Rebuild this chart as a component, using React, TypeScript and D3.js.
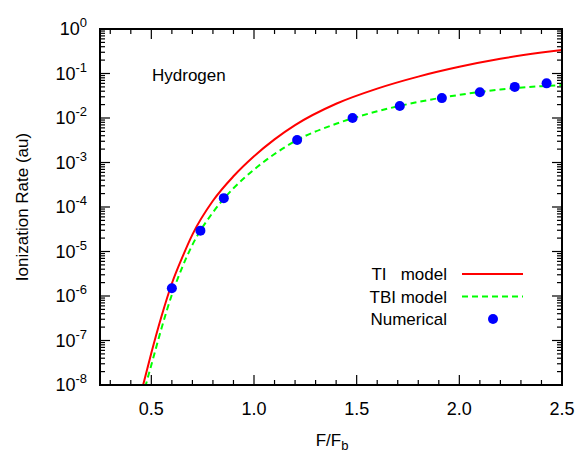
import React, { useEffect, useRef } from 'react';
import * as d3 from 'd3';

// field ratio F/Fb and log10 of the rate
const tiF = [0.46, 0.5, 0.55, 0.6, 0.65, 0.7, 0.8, 0.9, 1.0, 1.1, 1.2, 1.4, 1.6, 1.8, 2.0, 2.2, 2.4, 2.5];
const tiLog = [-8.0, -7.28, -6.45, -5.72, -5.14, -4.62, -3.86, -3.31, -2.86, -2.48, -2.16, -1.68, -1.34, -1.07, -0.85, -0.67, -0.53, -0.47];

const tbiF = [0.47, 0.5, 0.55, 0.6, 0.65, 0.7, 0.8, 0.9, 1.0, 1.1, 1.2, 1.4, 1.6, 1.8, 2.0, 2.2, 2.4, 2.5];
const tbiLog = [-8.05, -7.55, -6.72, -5.97, -5.36, -4.85, -4.12, -3.58, -3.16, -2.81, -2.52, -2.13, -1.85, -1.64, -1.48, -1.36, -1.285, -1.26];

const numF = [0.6, 0.739, 0.853, 1.21, 1.48, 1.71, 1.915, 2.1, 2.27, 2.425];
const numRate = [1.5e-6, 2.94e-5, 1.58e-4, 3.2e-3, 1.0e-2, 1.86e-2, 2.8e-2, 3.8e-2, 5.0e-2, 6.0e-2];

const xTicks = [0.5, 1.0, 1.5, 2.0, 2.5];
const yExponents = [0, -1, -2, -3, -4, -5, -6, -7, -8];

const legendItems = ['TI   model', 'TBI model', 'Numerical'];

export default function App() {
    const ref = useRef<SVGSVGElement>(null);

    useEffect(() => {
        const svg = d3.select(ref.current);
        svg.selectAll('*').remove();

        const margin = { top: 29, right: 19, bottom: 65, left: 100 };
        const width = 581 - margin.left - margin.right;
        const height = 450 - margin.top - margin.bottom;
        const font = 'Liberation Sans, Arial, Helvetica, sans-serif';

        const x = d3.scaleLinear().domain([0.25, 2.5]).range([0, width]);
        const y = d3.scaleLog().domain([1e-8, 1]).range([height, 0]);

        const g = svg.append('g').attr('transform', `translate(${margin.left},${margin.top})`);

        g.append('clipPath').attr('id', 'plot-clip')
            .append('rect').attr('width', width).attr('height', height);

        // ticks on all four sides, pointing inward
        const minorX = d3.range(3, 26).map(d => d / 10);
        const minorY: number[] = [];
        for (let e = -8; e < 0; e++) {
            for (let m = 2; m <= 9; m++) minorY.push(m * Math.pow(10, e));
        }
        const ticks = g.append('g').attr('stroke', '#000').attr('stroke-width', 1.2);
        minorX.forEach(v => {
            const major = xTicks.some(t => Math.abs(t - v) < 1e-6);
            const len = major ? 10 : 5;
            ticks.append('line').attr('x1', x(v)).attr('x2', x(v)).attr('y1', height).attr('y2', height - len);
            ticks.append('line').attr('x1', x(v)).attr('x2', x(v)).attr('y1', 0).attr('y2', len);
        });
        yExponents.forEach(e => {
            const v = Math.pow(10, e);
            ticks.append('line').attr('x1', 0).attr('x2', 10).attr('y1', y(v)).attr('y2', y(v));
            ticks.append('line').attr('x1', width).attr('x2', width - 10).attr('y1', y(v)).attr('y2', y(v));
        });
        minorY.forEach(v => {
            ticks.append('line').attr('x1', 0).attr('x2', 5).attr('y1', y(v)).attr('y2', y(v));
            ticks.append('line').attr('x1', width).attr('x2', width - 5).attr('y1', y(v)).attr('y2', y(v));
        });

        // curves
        const line = d3.line<[number, number]>()
            .x(d => x(d[0]))
            .y(d => y(Math.pow(10, d[1])))
            .curve(d3.curveMonotoneX);

        const curves = g.append('g').attr('clip-path', 'url(#plot-clip)');
        curves.append('path')
            .datum(tiF.map((f, i) => [f, tiLog[i]] as [number, number]))
            .attr('d', line)
            .attr('fill', 'none')
            .attr('stroke', '#ff0000')
            .attr('stroke-width', 2);
        curves.append('path')
            .datum(tbiF.map((f, i) => [f, tbiLog[i]] as [number, number]))
            .attr('d', line)
            .attr('fill', 'none')
            .attr('stroke', '#00ff00')
            .attr('stroke-width', 2)
            .attr('stroke-dasharray', '6,4');

        g.append('g').selectAll('circle')
            .data(numF.map((f, i) => [f, numRate[i]]))
            .join('circle')
            .attr('cx', d => x(d[0]))
            .attr('cy', d => y(d[1]))
            .attr('r', 5)
            .attr('fill', '#0000ff');

        // frame
        g.append('rect')
            .attr('width', width).attr('height', height)
            .attr('fill', 'none').attr('stroke', '#000').attr('stroke-width', 2);

        // x tick labels
        g.append('g').selectAll('text')
            .data(xTicks)
            .join('text')
            .attr('x', d => x(d))
            .attr('y', height + 30)
            .attr('text-anchor', 'middle')
            .attr('font-family', font)
            .attr('font-size', 18)
            .text(d => d.toFixed(1));

        // y tick labels, 10 with a superscript exponent
        yExponents.forEach(e => {
            const t = g.append('text')
                .attr('x', -13)
                .attr('y', y(Math.pow(10, e)) + 6)
                .attr('text-anchor', 'end')
                .attr('font-family', font)
                .attr('font-size', 18);
            t.append('tspan').text('10');
            t.append('tspan').attr('dy', -8).attr('font-size', 13).text(String(e));
        });

        // axis titles
        svg.append('text')
            .attr('transform', `translate(28,${margin.top + height / 2}) rotate(-90)`)
            .attr('text-anchor', 'middle')
            .attr('font-family', font)
            .attr('font-size', 17)
            .text('Ionization Rate (au)');
        const xt = svg.append('text')
            .attr('x', 332)
            .attr('y', 446)
            .attr('text-anchor', 'middle')
            .attr('font-family', font)
            .attr('font-size', 17);
        xt.append('tspan').text('F/F');
        xt.append('tspan').attr('dy', 4).attr('font-size', 13).text('b');

        g.append('text')
            .attr('x', 52)
            .attr('y', 52)
            .attr('font-family', font)
            .attr('font-size', 17)
            .text('Hydrogen');

        // legend
        const legend = g.append('g');
        legendItems.forEach((label, i) => {
            const ly = 245 + i * 22.5;
            legend.append('text')
                .attr('x', 347)
                .attr('y', ly + 6)
                .attr('text-anchor', 'end')
                .attr('font-family', font)
                .attr('font-size', 17)
                .style('white-space', 'pre')
                .text(label);
            if (i === 0) {
                legend.append('line').attr('x1', 362).attr('x2', 423).attr('y1', ly).attr('y2', ly)
                    .attr('stroke', '#ff0000').attr('stroke-width', 2);
            } else if (i === 1) {
                legend.append('line').attr('x1', 362).attr('x2', 423).attr('y1', ly).attr('y2', ly)
                    .attr('stroke', '#00ff00').attr('stroke-width', 2).attr('stroke-dasharray', '6,4');
            } else {
                legend.append('circle').attr('cx', 393).attr('cy', ly).attr('r', 5).attr('fill', '#0000ff');
            }
        });
    }, []);

    return (
        <svg ref={ref} width={581} height={450}
            style={{ position: 'absolute', left: 0, top: 0, background: '#fff' }} />
    );
}
